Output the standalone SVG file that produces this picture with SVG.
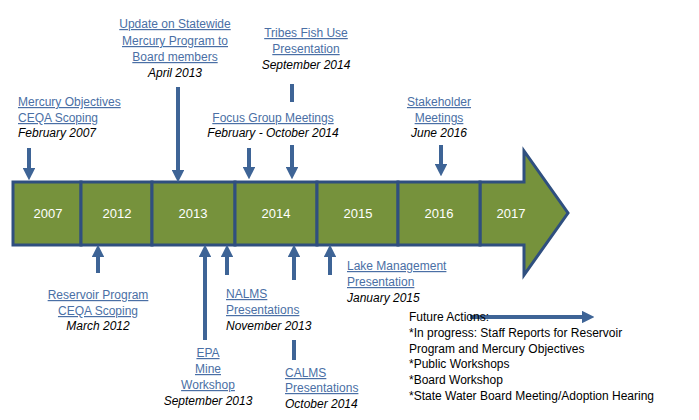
<svg xmlns="http://www.w3.org/2000/svg" width="699" height="420" viewBox="0 0 699 420">
<defs>
<marker id="ah" viewBox="0 0 10 10" refX="5" refY="5" markerWidth="3.2" markerHeight="3.2" orient="auto"><path d="M0,0 L10,5 L0,10 z" fill="#3E6496"/></marker>
<style>
text{font-family:"Liberation Sans",Arial,sans-serif;font-size:12px}
.l{fill:#4A6FA5;text-decoration:underline}
.d{font-style:italic;fill:#000}
.y{fill:#fff;font-size:13px}
.box{fill:#76923C;stroke:#2F4F7F;stroke-width:3}
.c{stroke:#3E6496;stroke-width:4;fill:none}
.ca{stroke:#3E6496;stroke-width:4;fill:none;marker-end:url(#ah)}
</style>
</defs>
<g id="timeline">
<path class="box" d="M480,182 L524,182 L524,151 L568,213 L524,275 L524,245 L480,245 Z" transform="translate(0,0)"/>
<rect class="box" x="13" y="182" width="68" height="63"/>
<rect class="box" x="81" y="182" width="71" height="63"/>
<rect class="box" x="152" y="182" width="83" height="63"/>
<rect class="box" x="235" y="182" width="82" height="63"/>
<rect class="box" x="317" y="182" width="81" height="63"/>
<rect class="box" x="398" y="182" width="82" height="63"/>
<g text-anchor="middle" class="y">
<text class="y" x="48" y="218">2007</text><text class="y" x="117" y="218">2012</text><text class="y" x="193" y="218">2013</text><text class="y" x="276" y="218">2014</text><text class="y" x="358" y="218">2015</text><text class="y" x="439" y="218">2016</text><text class="y" x="511" y="218">2017</text>
</g>
</g>
<g id="connectors">
<line class="ca" x1="29" y1="148" x2="29" y2="174"/>
<line class="ca" x1="178" y1="87" x2="178" y2="176"/>
<line class="ca" x1="249" y1="148" x2="249" y2="173"/>
<line class="c" x1="292" y1="84" x2="292" y2="102"/>
<line class="ca" x1="292" y1="145" x2="292" y2="173"/>
<line class="ca" x1="441" y1="145" x2="441" y2="170"/>
<line class="ca" x1="98" y1="273" x2="98" y2="251"/>
<line class="ca" x1="205" y1="340" x2="205" y2="251"/>
<line class="ca" x1="227" y1="275" x2="227" y2="251"/>
<line class="ca" x1="294" y1="280" x2="294" y2="251"/>
<line class="c" x1="294" y1="340" x2="294" y2="360"/>
<line class="ca" x1="330" y1="275" x2="330" y2="251"/>
<line class="ca" x1="470" y1="317" x2="588" y2="317"/>
</g>
<g id="n-mercury" text-anchor="start"><text class="l" x="18" y="106">Mercury Objectives</text><text class="l" x="18" y="122">CEQA Scoping</text><text class="d" x="18" y="137">February 2007</text></g>
<g id="n-update" text-anchor="middle"><text class="l" x="175" y="28">Update on Statewide</text><text class="l" x="175" y="45">Mercury Program to</text><text class="l" x="175" y="61">Board members</text><text class="d" x="175" y="77">April 2013</text></g>
<g id="n-tribes" text-anchor="middle"><text class="l" x="306" y="37">Tribes Fish Use</text><text class="l" x="306" y="53">Presentation</text><text class="d" x="306" y="69">September 2014</text></g>
<g id="n-focus" text-anchor="middle"><text class="l" x="273" y="122">Focus Group Meetings</text><text class="d" x="273" y="137">February - October 2014</text></g>
<g id="n-stake" text-anchor="middle"><text class="l" x="439" y="106">Stakeholder</text><text class="l" x="439" y="122">Meetings</text><text class="d" x="439" y="137">June 2016</text></g>
<g id="n-reservoir" text-anchor="middle"><text class="l" x="98" y="299">Reservoir Program</text><text class="l" x="98" y="315">CEQA Scoping</text><text class="d" x="98" y="330">March 2012</text></g>
<g id="n-epa" text-anchor="middle"><text class="l" x="208" y="357">EPA</text><text class="l" x="208" y="373">Mine</text><text class="l" x="208" y="389">Workshop</text><text class="d" x="208" y="405">September 2013</text></g>
<g id="n-nalms" text-anchor="start"><text class="l" x="226" y="298">NALMS</text><text class="l" x="226" y="314">Presentations</text><text class="d" x="226" y="330">November 2013</text></g>
<g id="n-calms" text-anchor="start"><text class="l" x="285" y="377">CALMS</text><text class="l" x="285" y="392">Presentations</text><text class="d" x="285" y="408">October 2014</text></g>
<g id="n-lake" text-anchor="start"><text class="l" x="347" y="270">Lake Management</text><text class="l" x="347" y="286">Presentation</text><text class="d" x="347" y="302">January 2015</text></g>
<g id="n-future" text-anchor="start"><text x="409" y="321">Future Actions:</text><text x="409" y="337">*In progress: Staff Reports for Reservoir</text><text x="409" y="353">Program and Mercury Objectives</text><text x="409" y="368">*Public Workshops</text><text x="409" y="384">*Board Workshop</text><text x="409" y="400">*State Water Board Meeting/Adoption Hearing</text></g>
</svg>
